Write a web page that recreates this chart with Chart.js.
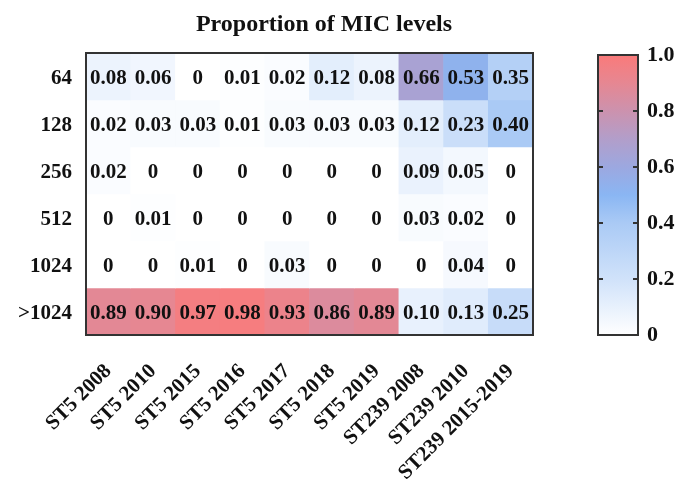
<!DOCTYPE html>
<html>
<head>
<meta charset="utf-8">
<script src="https://cdn.jsdelivr.net/npm/chart.js@4.4.1/dist/chart.umd.min.js"></script>
<style>
  html, body { margin: 0; padding: 0; background: #fff; }
  #wrap { position: relative; width: 687px; height: 491px; overflow: hidden; }
  #heat { position: absolute; left: 0; top: 0; }
  #bar { position: absolute; left: 580px; top: 0; }
</style>
</head>
<body>
<div id="wrap">
  <canvas id="heat" width="648" height="491"></canvas>
  <canvas id="bar" width="107" height="491"></canvas>
</div>
<script>
// columns (strain / year groups)
const groups = ['ST5 2008', 'ST5 2010', 'ST5 2015', 'ST5 2016', 'ST5 2017', 'ST5 2018',
  'ST5 2019', 'ST239 2008', 'ST239 2010', 'ST239 2015-2019'];

// rows (MIC levels), top to bottom
const micLevels = ['64', '128', '256', '512', '1024', '>1024'];

// proportions per MIC level
const mic64   = [0.08, 0.06, 0,    0.01, 0.02, 0.12, 0.08, 0.66, 0.53, 0.35];
const mic128  = [0.02, 0.03, 0.03, 0.01, 0.03, 0.03, 0.03, 0.12, 0.23, 0.40];
const mic256  = [0.02, 0,    0,    0,    0,    0,    0,    0.09, 0.05, 0];
const mic512  = [0,    0.01, 0,    0,    0,    0,    0,    0.03, 0.02, 0];
const mic1024 = [0,    0,    0.01, 0,    0.03, 0,    0,    0,    0.04, 0];
const micOver = [0.89, 0.90, 0.97, 0.98, 0.93, 0.86, 0.89, 0.10, 0.13, 0.25];

const rows = [mic64, mic128, mic256, mic512, mic1024, micOver];

// colorbar ticks
const barTicks = [0, 0.2, 0.4, 0.6, 0.8, 1.0];

const titleText = 'Proportion of MIC levels';

// white -> blue -> purple -> red
const cmapStops = [
  [0.0, [255, 255, 255]],
  [0.2, [208, 226, 250]],
  [0.4, [170, 202, 245]],
  [0.5, [138, 182, 243]],
  [0.6, [156, 168, 224]],
  [0.7, [178, 158, 202]],
  [0.8, [204, 146, 174]],
  [0.9, [230, 135, 146]],
  [1.0, [250, 122, 122]]
];

function cmap(v) {
  for (let i = 1; i < cmapStops.length; i++) {
    const [t1, c1] = cmapStops[i];
    const [t0, c0] = cmapStops[i - 1];
    if (v <= t1) {
      const f = (v - t0) / (t1 - t0);
      const c = c0.map((a, k) => Math.round(a + (c1[k] - a) * f));
      return `rgb(${c[0]},${c[1]},${c[2]})`;
    }
  }
  const c = cmapStops[cmapStops.length - 1][1];
  return `rgb(${c[0]},${c[1]},${c[2]})`;
}

const FONT = '"Liberation Serif", "Times New Roman", serif';

// cell values, frame and title (title is centred on the whole figure, not the plot)
const cellText = {
  id: 'cellText',
  afterDatasetsDraw(chart) {
    const ctx = chart.ctx;
    ctx.save();
    ctx.font = `bold 21px ${FONT}`;
    ctx.fillStyle = '#111';
    ctx.textAlign = 'center';
    ctx.textBaseline = 'middle';
    chart.data.datasets.forEach((ds, r) => {
      chart.getDatasetMeta(r).data.forEach((el, c) => {
        const v = rows[r][c];
        const txt = v === 0 ? '0' : v.toFixed(2);
        ctx.fillText(txt, el.x, (el.y + el.base) / 2 + 2);
      });
    });
    const a = chart.chartArea;
    ctx.strokeStyle = '#333';
    ctx.lineWidth = 2;
    ctx.strokeRect(a.left, a.top, a.right - a.left, a.bottom - a.top);

    ctx.font = `bold 24px ${FONT}`;
    ctx.fillText(titleText, 324, 25);
    ctx.restore();
  }
};

new Chart(document.getElementById('heat'), {
  type: 'bar',
  data: {
    labels: groups,
    datasets: rows.map((vals, r) => ({
      label: micLevels[r],
      data: vals.map(() => [r, r + 1]),
      backgroundColor: vals.map(v => cmap(v)),
      borderWidth: 0,
      barPercentage: 1,
      categoryPercentage: 1,
      grouped: false
    }))
  },
  options: {
    responsive: false,
    animation: false,
    layout: { padding: { left: 0, right: 115, top: 53, bottom: 0 } },
    plugins: {
      legend: { display: false },
      tooltip: { enabled: false },
      title: { display: false }
    },
    scales: {
      x: {
        type: 'category',
        grid: { display: false, drawTicks: false },
        border: { display: false },
        ticks: {
          color: '#111',
          font: { family: FONT, size: 21, weight: 'bold' },
          minRotation: 45,
          maxRotation: 45,
          autoSkip: false,
          padding: 24
        },
        afterFit(s) { s.height = 156; }
      },
      y: {
        type: 'linear',
        min: 0,
        max: 6,
        reverse: true,
        grid: { display: false, drawTicks: false },
        border: { display: false },
        afterBuildTicks(s) { s.ticks = micLevels.map((_, i) => ({ value: i + 0.5 })); },
        ticks: {
          color: '#111',
          font: { family: FONT, size: 21, weight: 'bold' },
          padding: 14,
          labelOffset: 2,
          callback: v => micLevels[Math.floor(v)]
        },
        afterFit(s) { s.width = 86; }
      }
    }
  },
  plugins: [cellText]
});

// colorbar
const barFrame = {
  id: 'barFrame',
  afterDatasetsDraw(chart) {
    const ctx = chart.ctx;
    const a = chart.chartArea;
    const ys = chart.scales.y;
    ctx.save();
    ctx.strokeStyle = '#333';
    ctx.lineWidth = 2;
    ctx.strokeRect(a.left, a.top, a.right - a.left, a.bottom - a.top);
    barTicks.slice(1, -1).forEach(t => {
      const y = Math.round(ys.getPixelForValue(t));
      ctx.beginPath();
      ctx.moveTo(a.left, y); ctx.lineTo(a.left + 5, y);
      ctx.moveTo(a.right, y); ctx.lineTo(a.right - 5, y);
      ctx.stroke();
    });
    ctx.restore();
  }
};

new Chart(document.getElementById('bar'), {
  type: 'bar',
  data: {
    labels: [''],
    datasets: [{
      data: [[0, 1]],
      borderWidth: 0,
      barPercentage: 1,
      categoryPercentage: 1,
      backgroundColor(c) {
        const a = c.chart.chartArea;
        if (!a) return '#fff';
        const g = c.chart.ctx.createLinearGradient(0, a.bottom, 0, a.top);
        cmapStops.forEach(([t]) => g.addColorStop(t, cmap(t)));
        return g;
      }
    }]
  },
  options: {
    responsive: false,
    animation: false,
    layout: { padding: { left: 18, right: 0, top: 55, bottom: 156 } },
    plugins: { legend: { display: false }, tooltip: { enabled: false } },
    scales: {
      x: { display: false },
      y: {
        position: 'right',
        min: 0,
        max: 1,
        grid: { display: false, drawTicks: false },
        border: { display: false },
        afterBuildTicks(s) { s.ticks = barTicks.map(v => ({ value: v })); },
        ticks: {
          color: '#111',
          font: { family: FONT, size: 22, weight: 'bold' },
          padding: 9,
          callback: v => (v === 0 ? '0' : v.toFixed(1))
        },
        afterFit(s) { s.width = 49; }
      }
    }
  },
  plugins: [barFrame]
});
</script>
</body>
</html>
